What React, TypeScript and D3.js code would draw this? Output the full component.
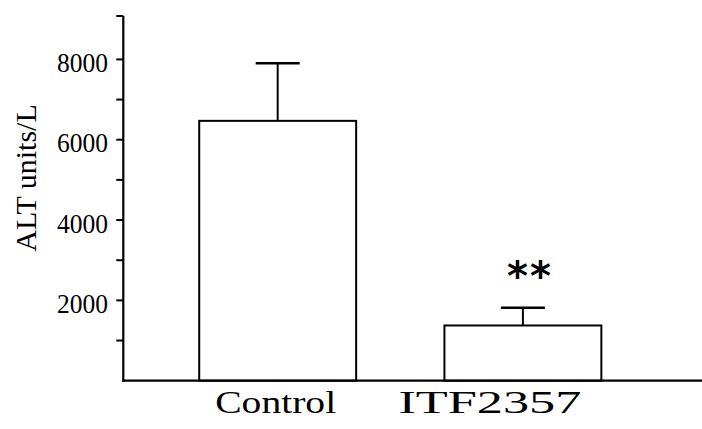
import React from "react";
import * as d3 from "d3";

const categories = ["Control", "ITF2357"];
const means = [6470, 1375];
const errors = [1435, 440];
const majorTicks = [2000, 4000, 6000, 8000];
const allTicks = [1000, 2000, 3000, 4000, 5000, 6000, 7000, 8000];
const yLabel = "ALT units/L";
const significance = ["", "**"];

const W = 702;
const H = 429;
const axisX = 123.3;
const baseY = 380.7;

export default function App() {
  const y = d3.scaleLinear().domain([0, 8000]).range([baseY, 59.4]);
  const yTop = 16;
  const x = d3
    .scaleBand<string>()
    .domain(categories)
    .range([axisX, W])
    .paddingInner(0.36)
    .paddingOuter(0.36)
    .align(0.43);
  const bw = x.bandwidth();
  const font = "'Liberation Serif', 'Times New Roman', serif";
  const catWidths = [121, 183];
  const catShift = [-2, -33];

  return (
    <svg
      width={W}
      height={H}
      style={{ position: "absolute", left: 0, top: 0, background: "#fff" }}
    >
      <rect x={0} y={0} width={W} height={H} fill="#fff" />
      {categories.map((c, i) => {
        const x0 = x(c)!;
        const cx = x0 + bw / 2;
        const top = y(means[i]);
        const eTop = y(means[i] + errors[i]);
        return (
          <g key={c}>
            <rect
              x={x0}
              y={top}
              width={bw}
              height={baseY - top}
              fill="#fff"
              stroke="#000"
              strokeWidth={2}
            />
            <line x1={cx} x2={cx} y1={top} y2={eTop} stroke="#000" strokeWidth={2} />
            <line x1={cx - 22} x2={cx + 22} y1={eTop} y2={eTop} stroke="#000" strokeWidth={2.5} />
            {significance[i] && (
              <text
                x={cx + 7}
                y={eTop - 18}
                textAnchor="middle"
                fontFamily="'DejaVu Sans', sans-serif"
                fontWeight="bold"
                fontSize={40}
                letterSpacing={2}
              >
                {significance[i]}
              </text>
            )}
            <text
              x={cx + catShift[i]}
              y={413}
              textAnchor="middle"
              fontFamily={font}
              fontSize={31}
              textLength={catWidths[i]}
              lengthAdjust="spacingAndGlyphs"
            >
              {c}
            </text>
          </g>
        );
      })}
      {/* axis */}
      <line x1={axisX} x2={axisX} y1={yTop} y2={baseY + 1} stroke="#000" strokeWidth={2.2} />
      <line x1={axisX - 1} x2={W} y1={baseY} y2={baseY} stroke="#000" strokeWidth={2.2} />
      <line x1={axisX - 7} x2={axisX} y1={yTop} y2={yTop} stroke="#000" strokeWidth={2} />
      {allTicks.map((t) => (
        <line key={t} x1={axisX - 7} x2={axisX} y1={y(t)} y2={y(t)} stroke="#000" strokeWidth={2} />
      ))}
      {majorTicks.map((t) => (
        <text
          key={t}
          x={108}
          y={y(t) + 3}
          dy="0.35em"
          textAnchor="end"
          fontFamily={font}
          fontSize={27}
          textLength={51}
          lengthAdjust="spacingAndGlyphs"
        >
          {t}
        </text>
      ))}
      <text
        transform={`translate(36, 178) rotate(-90)`}
        textAnchor="middle"
        fontFamily={font}
        fontSize={30}
      >
        {yLabel}
      </text>
    </svg>
  );
}
